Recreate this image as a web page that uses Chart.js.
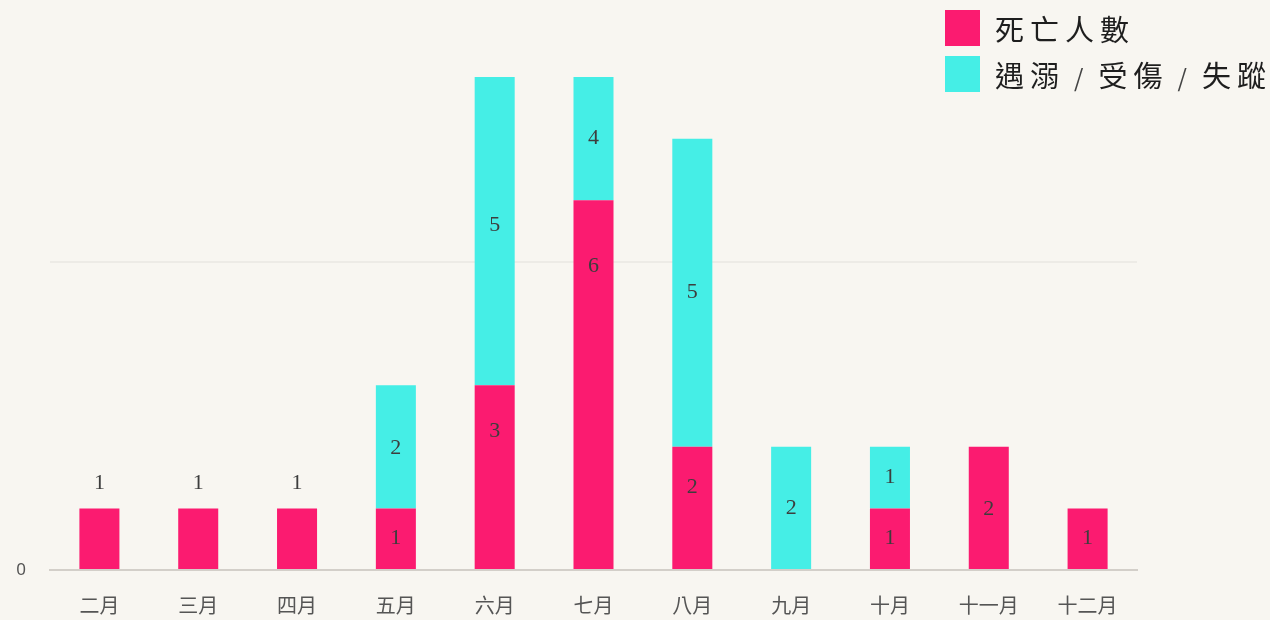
<!DOCTYPE html>
<html>
<head>
<meta charset="utf-8">
<script src="https://cdn.jsdelivr.net/npm/chart.js@4"></script>
<style>
  html, body { margin: 0; padding: 0; }
  body {
    width: 1270px; height: 620px; overflow: hidden; position: relative;
    background: #f8f6f1;
  }
  #wrap { position: absolute; left: 0; top: 0; width: 1270px; height: 620px; }
  #legend {
    position: absolute; left: 945px; top: 10px;
    font-family: "Noto Sans CJK TC", "Noto Sans CJK SC", sans-serif;
    font-size: 29px; color: #1e1e1e; letter-spacing: 6px;
  }
  .row { display: flex; align-items: center; height: 36px; margin-bottom: 10px; white-space: nowrap; }
  .box { width: 35px; height: 36px; margin-right: 15px; flex: none; }
  .sep { letter-spacing: 0; margin: 0 15px 0 9px; font-size: 24px; color: #444; }
</style>
</head>
<body>
<div id="wrap"><canvas id="casualtyChart" width="1270" height="620"></canvas></div>
<div id="legend"></div>

<script>
const months = ['二月', '三月', '四月', '五月', '六月', '七月', '八月', '九月', '十月', '十一月', '十二月'];
const deaths = [1, 1, 1, 1, 3, 6, 2, 0, 1, 2, 1];
const injured = [0, 0, 0, 2, 5, 4, 5, 2, 1, 0, 0];
const yTicks = [0, 5];

const seriesNames = ['死亡人數', '遇溺 / 受傷 / 失蹤'];
const seriesColors = ['#fb1b70', '#45eee6'];

// where the value label sits inside the visible segment (0 = top, 1 = base), 'above' = over the bar
const labelPlacement = [
  ['above', 'above', 'above', 0.5, 0.25, 0.18, 0.33, 0.5, 0.5, 0.51, 0.5],
  [0.5, 0.5, 0.5, 0.51, 0.48, 0.5, 0.5, 0.5, 0.5, 0.5, 0.5]
];

const valueLabels = {
  id: 'valueLabels',
  afterDatasetsDraw(chart) {
    const ctx = chart.ctx;
    const top = chart.chartArea.top;
    ctx.save();
    ctx.font = '22px "Liberation Serif", "DejaVu Serif", serif';
    ctx.fillStyle = '#3d3d3d';
    ctx.textAlign = 'center';
    ctx.textBaseline = 'middle';
    chart.data.datasets.forEach((ds, di) => {
      chart.getDatasetMeta(di).data.forEach((bar, i) => {
        const v = ds.data[i];
        if (!v) return;
        const p = labelPlacement[di][i];
        const segTop = Math.max(bar.y, top);
        const y = p === 'above' ? segTop - 25 : segTop + (bar.base - segTop) * p;
        ctx.fillText(String(v), bar.x, y);
      });
    });
    ctx.restore();
  }
};

const legendEl = document.getElementById('legend');
seriesNames.forEach((name, i) => {
  const row = document.createElement('div');
  row.className = 'row';
  const text = name.split(' / ').join('<span class="sep">/</span>');
  row.innerHTML = `<span class="box" style="background:${seriesColors[i]}"></span><span>${text}</span>`;
  legendEl.appendChild(row);
});

const ctx = document.getElementById('casualtyChart').getContext('2d');
new Chart(ctx, {
  type: 'bar',
  data: {
    labels: months,
    datasets: [
      { label: seriesNames[0], data: deaths, backgroundColor: seriesColors[0] },
      { label: seriesNames[1], data: injured, backgroundColor: seriesColors[1] }
    ]
  },
  options: {
    responsive: false,
    animation: false,
    layout: { padding: { top: 77, right: 133, left: 0, bottom: 0 } },
    datasets: { bar: { barPercentage: 0.9, categoryPercentage: 0.45 } },
    plugins: { legend: { display: false }, tooltip: { enabled: false } },
    scales: {
      x: {
        stacked: true,
        grid: { display: false },
        border: { display: true, color: '#d3cfc9', width: 2 },
        ticks: {
          padding: 15,
          color: '#555',
          font: { family: '"Noto Sans CJK TC", sans-serif', size: 20 }
        },
        afterFit: s => { s.height = 50; }
      },
      y: {
        stacked: true,
        min: 0,
        max: 8,
        afterBuildTicks: s => { s.ticks = yTicks.map(v => ({ value: v })); },
        afterFit: s => { s.width = 50; },
        border: { display: false },
        grid: {
          drawTicks: false,
          lineWidth: 2,
          color: c => c.tick && c.tick.value === 0 ? 'rgba(0,0,0,0)' : 'rgba(120,110,100,0.08)'
        },
        ticks: {
          padding: 24,
          color: '#555',
          font: { family: '"Noto Sans", sans-serif', size: 17 },
          callback: v => v === 0 ? '0' : ''
        }
      }
    }
  },
  plugins: [valueLabels]
});
</script>
</body>
</html>
